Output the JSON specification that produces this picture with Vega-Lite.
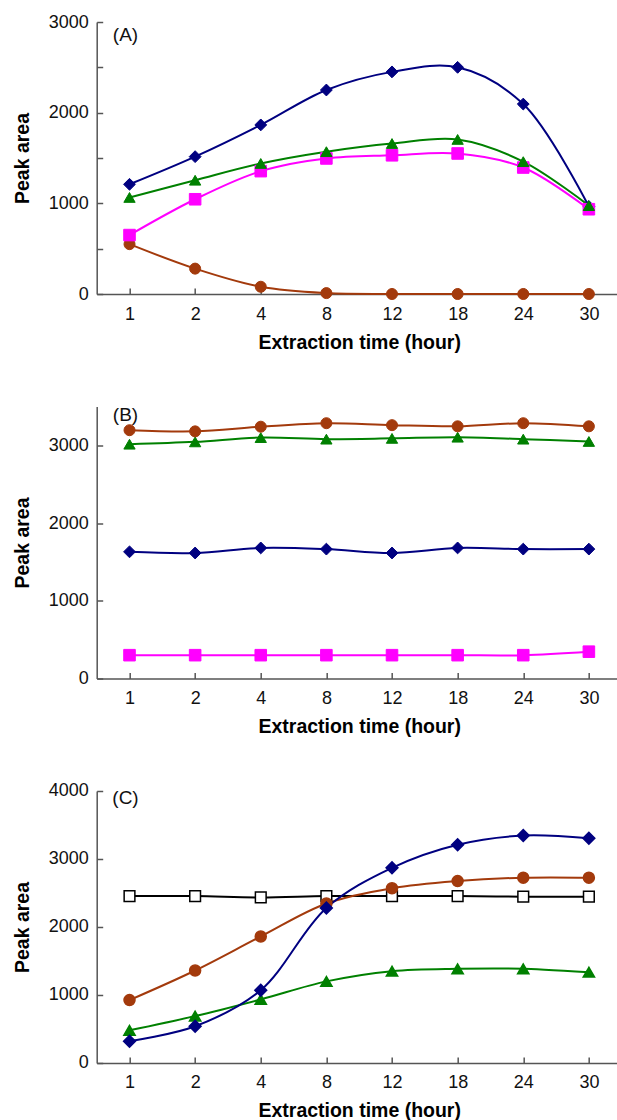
{
  "$schema": "https://vega.github.io/schema/vega-lite/v6.json",
  "background": "white",
  "padding": {"left": 11.7, "top": 13, "right": 0, "bottom": 0},
  "bounds": "flush",
  "spacing": 112.5,
  "config": {
    "view": {"stroke": null},
    "font": "Liberation Sans",
    "axis": {
      "grid": false,
      "domainColor": "#555555",
      "domainWidth": 1.5,
      "tickColor": "#555555",
      "tickWidth": 1.5,
      "tickSize": -6,
      "labelFont": "Liberation Sans",
      "labelFontSize": 18,
      "labelColor": "#111111",
      "titleFont": "Liberation Sans",
      "titleFontSize": 19.5,
      "titleFontWeight": "bold",
      "titleColor": "#000000"
    }
  },
  "datasets": {
    "A": [
      {"time": "1", "series": "S4", "value": 550}, {"time": "2", "series": "S4", "value": 280}, {"time": "4", "series": "S4", "value": 80}, {"time": "8", "series": "S4", "value": 10}, {"time": "12", "series": "S4", "value": 0}, {"time": "18", "series": "S4", "value": 0}, {"time": "24", "series": "S4", "value": 0}, {"time": "30", "series": "S4", "value": 0},
      {"time": "1", "series": "S1", "value": 1210}, {"time": "2", "series": "S1", "value": 1515}, {"time": "4", "series": "S1", "value": 1865}, {"time": "8", "series": "S1", "value": 2250}, {"time": "12", "series": "S1", "value": 2450}, {"time": "18", "series": "S1", "value": 2500}, {"time": "24", "series": "S1", "value": 2095}, {"time": "30", "series": "S1", "value": 965},
      {"time": "1", "series": "S2", "value": 650}, {"time": "2", "series": "S2", "value": 1045}, {"time": "4", "series": "S2", "value": 1355}, {"time": "8", "series": "S2", "value": 1495}, {"time": "12", "series": "S2", "value": 1530}, {"time": "18", "series": "S2", "value": 1550}, {"time": "24", "series": "S2", "value": 1395}, {"time": "30", "series": "S2", "value": 935},
      {"time": "1", "series": "S3", "value": 1065}, {"time": "2", "series": "S3", "value": 1255}, {"time": "4", "series": "S3", "value": 1440}, {"time": "8", "series": "S3", "value": 1570}, {"time": "12", "series": "S3", "value": 1660}, {"time": "18", "series": "S3", "value": 1705}, {"time": "24", "series": "S3", "value": 1460}, {"time": "30", "series": "S3", "value": 975}
    ],
    "B": [
      {"time": "1", "series": "S2", "value": 300}, {"time": "2", "series": "S2", "value": 300}, {"time": "4", "series": "S2", "value": 300}, {"time": "8", "series": "S2", "value": 300}, {"time": "12", "series": "S2", "value": 300}, {"time": "18", "series": "S2", "value": 300}, {"time": "24", "series": "S2", "value": 300}, {"time": "30", "series": "S2", "value": 345},
      {"time": "1", "series": "S1", "value": 1630}, {"time": "2", "series": "S1", "value": 1615}, {"time": "4", "series": "S1", "value": 1680}, {"time": "8", "series": "S1", "value": 1665}, {"time": "12", "series": "S1", "value": 1615}, {"time": "18", "series": "S1", "value": 1680}, {"time": "24", "series": "S1", "value": 1665}, {"time": "30", "series": "S1", "value": 1665},
      {"time": "1", "series": "S3", "value": 3015}, {"time": "2", "series": "S3", "value": 3045}, {"time": "4", "series": "S3", "value": 3100}, {"time": "8", "series": "S3", "value": 3080}, {"time": "12", "series": "S3", "value": 3090}, {"time": "18", "series": "S3", "value": 3105}, {"time": "24", "series": "S3", "value": 3080}, {"time": "30", "series": "S3", "value": 3050},
      {"time": "1", "series": "S4", "value": 3195}, {"time": "2", "series": "S4", "value": 3180}, {"time": "4", "series": "S4", "value": 3240}, {"time": "8", "series": "S4", "value": 3285}, {"time": "12", "series": "S4", "value": 3260}, {"time": "18", "series": "S4", "value": 3245}, {"time": "24", "series": "S4", "value": 3285}, {"time": "30", "series": "S4", "value": 3245}
    ],
    "C": [
      {"time": "1", "series": "S5", "value": 2455}, {"time": "2", "series": "S5", "value": 2455}, {"time": "4", "series": "S5", "value": 2435}, {"time": "8", "series": "S5", "value": 2455}, {"time": "12", "series": "S5", "value": 2455}, {"time": "18", "series": "S5", "value": 2455}, {"time": "24", "series": "S5", "value": 2445}, {"time": "30", "series": "S5", "value": 2445},
      {"time": "1", "series": "S4", "value": 925}, {"time": "2", "series": "S4", "value": 1360}, {"time": "4", "series": "S4", "value": 1860}, {"time": "8", "series": "S4", "value": 2345}, {"time": "12", "series": "S4", "value": 2570}, {"time": "18", "series": "S4", "value": 2675}, {"time": "24", "series": "S4", "value": 2725}, {"time": "30", "series": "S4", "value": 2725},
      {"time": "1", "series": "S3", "value": 480}, {"time": "2", "series": "S3", "value": 690}, {"time": "4", "series": "S3", "value": 935}, {"time": "8", "series": "S3", "value": 1200}, {"time": "12", "series": "S3", "value": 1350}, {"time": "18", "series": "S3", "value": 1385}, {"time": "24", "series": "S3", "value": 1385}, {"time": "30", "series": "S3", "value": 1335},
      {"time": "1", "series": "S1", "value": 320}, {"time": "2", "series": "S1", "value": 540}, {"time": "4", "series": "S1", "value": 1070}, {"time": "8", "series": "S1", "value": 2280}, {"time": "12", "series": "S1", "value": 2870}, {"time": "18", "series": "S1", "value": 3210}, {"time": "24", "series": "S1", "value": 3345}, {"time": "30", "series": "S1", "value": 3305}
    ],
    "labels": [{"panel": "A", "label": "(A)", "time": "1", "value": 2860}, {"panel": "B", "label": "(B)", "time": "1", "value": 3390}, {"panel": "C", "label": "(C)", "time": "1", "value": 3900}]
  },
  "vconcat": [
    {
      "width": 525, "height": 272,
      "layer": [
        {"data": {"name": "A"},
         "mark": {"type": "line", "interpolate": "catmull-rom", "strokeWidth": 2},
         "encoding": {
           "x": {"field": "time", "type": "ordinal", "sort": ["1","2","4","8","12","18","24","30"], "scale": {"type": "point", "padding": 0.5}, "axis": {"title": "Extraction time (hour)", "labelAngle": 0, "labelPadding": 17, "titlePadding": 10}},
           "y": {"field": "value", "type": "quantitative", "scale": {"domain": [0, 3000], "nice": false}, "axis": {"title": "Peak area", "values": [0,500,1000,1500,2000,2500,3000], "format": "d", "labelExpr": "datum.value % 1000 === 0 ? datum.label : ''", "labelPadding": 14.4, "titlePadding": 15.6}},
           "color": {"field": "series", "type": "nominal", "legend": null, "scale": {"domain": ["S1","S2","S3","S4","S5"], "range": ["#000080","#FF00FF","#008000","#A33A0C","#000000"]}}}},
        {"data": {"name": "A"},
         "mark": {"type": "point", "filled": true, "opacity": 1, "strokeWidth": 1},
         "encoding": {
           "x": {"field": "time", "type": "ordinal", "sort": ["1","2","4","8","12","18","24","30"]},
           "y": {"field": "value", "type": "quantitative"},
           "shape": {"field": "series", "type": "nominal", "legend": null, "scale": {"domain": ["S1","S2","S3","S4","S5"], "range": ["diamond","square","triangle-up","circle","square"]}},
           "fill": {"field": "series", "type": "nominal", "legend": null, "scale": {"domain": ["S1","S2","S3","S4","S5"], "range": ["#000080","#FF00FF","#008000","#A33A0C","#FFFFFF"]}},
           "stroke": {"field": "series", "type": "nominal", "legend": null, "scale": {"domain": ["S1","S2","S3","S4","S5"], "range": ["#000080","#FF00FF","#008000","#A33A0C","#000000"]}},
           "size": {"field": "series", "type": "nominal", "legend": null, "scale": {"domain": ["S1","S2","S3","S4","S5"], "range": [140, 115, 150, 115, 100]}}
         }},
        {"data": {"name": "labels"},
         "transform": [{"filter": "datum.panel === 'A'"}],
         "mark": {"type": "text", "fontSize": 19, "align": "center", "baseline": "middle", "dx": -4, "color": "#111111"},
         "encoding": {
           "x": {"field": "time", "type": "ordinal", "sort": ["1","2","4","8","12","18","24","30"]},
           "y": {"field": "value", "type": "quantitative"},
           "text": {"field": "label"}}}
      ]
    },
    {
      "width": 525, "height": 272,
      "layer": [
        {"data": {"name": "B"},
         "mark": {"type": "line", "interpolate": "catmull-rom", "strokeWidth": 2},
         "encoding": {
           "x": {"field": "time", "type": "ordinal", "sort": ["1","2","4","8","12","18","24","30"], "scale": {"type": "point", "padding": 0.5}, "axis": {"title": "Extraction time (hour)", "labelAngle": 0, "labelPadding": 17, "titlePadding": 10}},
           "y": {"field": "value", "type": "quantitative", "scale": {"domain": [0, 3500], "nice": false}, "axis": {"title": "Peak area", "values": [0,500,1000,1500,2000,2500,3000,3500], "format": "d", "labelExpr": "datum.value % 1000 === 0 ? datum.label : ''", "labelPadding": 14.4, "titlePadding": 15.6}},
           "color": {"field": "series", "type": "nominal", "legend": null, "scale": {"domain": ["S1","S2","S3","S4","S5"], "range": ["#000080","#FF00FF","#008000","#A33A0C","#000000"]}}}},
        {"data": {"name": "B"},
         "mark": {"type": "point", "filled": true, "opacity": 1, "strokeWidth": 1},
         "encoding": {
           "x": {"field": "time", "type": "ordinal", "sort": ["1","2","4","8","12","18","24","30"]},
           "y": {"field": "value", "type": "quantitative"},
           "shape": {"field": "series", "type": "nominal", "legend": null, "scale": {"domain": ["S1","S2","S3","S4","S5"], "range": ["diamond","square","triangle-up","circle","square"]}},
           "fill": {"field": "series", "type": "nominal", "legend": null, "scale": {"domain": ["S1","S2","S3","S4","S5"], "range": ["#000080","#FF00FF","#008000","#A33A0C","#FFFFFF"]}},
           "stroke": {"field": "series", "type": "nominal", "legend": null, "scale": {"domain": ["S1","S2","S3","S4","S5"], "range": ["#000080","#FF00FF","#008000","#A33A0C","#000000"]}},
           "size": {"field": "series", "type": "nominal", "legend": null, "scale": {"domain": ["S1","S2","S3","S4","S5"], "range": [140, 115, 150, 115, 100]}}
         }},
        {"data": {"name": "labels"},
         "transform": [{"filter": "datum.panel === 'B'"}],
         "mark": {"type": "text", "fontSize": 19, "align": "center", "baseline": "middle", "dx": -4, "color": "#111111"},
         "encoding": {
           "x": {"field": "time", "type": "ordinal", "sort": ["1","2","4","8","12","18","24","30"]},
           "y": {"field": "value", "type": "quantitative"},
           "text": {"field": "label"}}}
      ]
    },
    {
      "width": 525, "height": 272,
      "layer": [
        {"data": {"name": "C"},
         "mark": {"type": "line", "interpolate": "catmull-rom", "strokeWidth": 2},
         "encoding": {
           "x": {"field": "time", "type": "ordinal", "sort": ["1","2","4","8","12","18","24","30"], "scale": {"type": "point", "padding": 0.5}, "axis": {"title": "Extraction time (hour)", "labelAngle": 0, "labelPadding": 17, "titlePadding": 10}},
           "y": {"field": "value", "type": "quantitative", "scale": {"domain": [0, 4000], "nice": false}, "axis": {"title": "Peak area", "values": [0,500,1000,1500,2000,2500,3000,3500,4000], "format": "d", "labelExpr": "datum.value % 1000 === 0 ? datum.label : ''", "labelPadding": 14.4, "titlePadding": 15.6}},
           "color": {"field": "series", "type": "nominal", "legend": null, "scale": {"domain": ["S1","S2","S3","S4","S5"], "range": ["#000080","#FF00FF","#008000","#A33A0C","#000000"]}}}},
        {"data": {"name": "C"},
         "mark": {"type": "point", "filled": true, "opacity": 1, "strokeWidth": 1.5},
         "encoding": {
           "x": {"field": "time", "type": "ordinal", "sort": ["1","2","4","8","12","18","24","30"]},
           "y": {"field": "value", "type": "quantitative"},
           "shape": {"field": "series", "type": "nominal", "legend": null, "scale": {"domain": ["S1","S2","S3","S4","S5"], "range": ["diamond","square","triangle-up","circle","square"]}},
           "fill": {"field": "series", "type": "nominal", "legend": null, "scale": {"domain": ["S1","S2","S3","S4","S5"], "range": ["#000080","#FF00FF","#008000","#A33A0C","#FFFFFF"]}},
           "stroke": {"field": "series", "type": "nominal", "legend": null, "scale": {"domain": ["S1","S2","S3","S4","S5"], "range": ["#000080","#FF00FF","#008000","#A33A0C","#000000"]}},
           "size": {"field": "series", "type": "nominal", "legend": null, "scale": {"domain": ["S1","S2","S3","S4","S5"], "range": [140, 115, 150, 115, 100]}}
         }},
        {"data": {"name": "labels"},
         "transform": [{"filter": "datum.panel === 'C'"}],
         "mark": {"type": "text", "fontSize": 19, "align": "center", "baseline": "middle", "dx": -4, "color": "#111111"},
         "encoding": {
           "x": {"field": "time", "type": "ordinal", "sort": ["1","2","4","8","12","18","24","30"]},
           "y": {"field": "value", "type": "quantitative"},
           "text": {"field": "label"}}}
      ]
    }
  ]
}
